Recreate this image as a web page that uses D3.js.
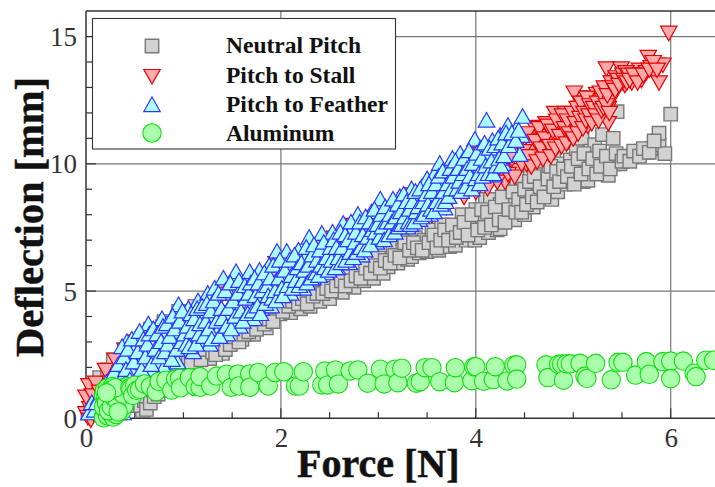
<!DOCTYPE html>
<html><head><meta charset="utf-8">
<script src="https://cdn.jsdelivr.net/npm/d3@7"></script>
<style>html,body{margin:0;padding:0;background:#fff}svg{display:block}text{font-family:"Liberation Serif",serif}</style>
</head><body><div id="c"></div>
<script>
const xTicks=[0,2,4,6], xMinor=[0.5,1,1.5,2.5,3,3.5,4.5,5,5.5];
const yTicks=[0,5,10,15], yMinor=[1,2,3,4,6,7,8,9,11,12,13,14];
const seriesNames=["Neutral Pitch","Pitch to Stall","Pitch to Feather","Aluminum"];
const neutralPitch=[[.02,.2],[.05,.9],[.08,.5],[.1,1.3],[.14,1.6],[.18,1.1],[.2,.3],[.22,1.9],[.28,.4],[.28,2.3],[.32,.9],[.35,.2],[.36,1.5],[.4,2.7],[.42,.5],[.45,1.2],[.5,3.0],[.52,.7],[.55,2.0],[.58,.3],[.56,.5],[.6,.7],[.62,.35],[.64,1.1],[.66,.6],[.66,3.5],[.7,2.5],[.7,.85],[.74,.95],[.75,1.6],[.78,1.1],[.8,3.8],[.82,1.45],[.88,1.8],[.9,2.8],[.95,4.2],[1.0,2.0],[1.02,3.3],[1.12,2.05],[1.12,4.4],[1.15,2.5],[1.2,3.0],[1.27,2.35],[1.3,4.7],[1.35,3.3],[1.4,2.55],[1.45,3.0],[1.5,5.0],[1.55,3.6],[1.6,3.1],[1.65,3.9],[1.7,5.4],[1.72,3.3],[1.8,3.9],[1.85,3.55],[1.9,5.7],[1.93,4.3],[1.99,4.1],[2.05,4.7],[2.1,4.15],[2.15,6.0],[2.2,4.3],[2.25,4.9],[2.3,4.4],[2.35,5.2],[2.4,4.6],[2.45,5.5],[2.5,4.7],[2.55,6.7],[2.6,5.3],[2.63,4.95],[2.7,5.6],[2.75,5.15],[2.8,6.0],[2.85,5.4],[2.9,5.8],[2.95,5.5],[3.0,6.3],[3.05,5.7],[3.1,5.95],[3.15,6.7],[3.2,6.1],[3.25,6.6],[3.3,6.25],[3.34,6.35],[3.38,7.1],[3.42,6.5],[3.47,7.0],[3.5,6.55],[3.55,7.4],[3.58,6.9],[3.62,6.6],[3.65,7.6],[3.7,7.2],[3.73,6.75],[3.79,6.8],[3.82,7.5],[3.86,8.0],[3.9,7.0],[3.93,7.7],[3.99,7.0],[4.0,8.2],[4.04,7.1],[4.07,7.8],[4.1,8.6],[4.13,7.3],[4.15,8.6],[4.18,7.9],[4.22,7.4],[4.25,8.4],[4.25,7.45],[4.29,9.0],[4.32,7.9],[4.36,8.5],[4.4,7.8],[4.42,9.2],[4.45,8.2],[4.48,9.45],[4.5,8.0],[4.53,8.9],[4.56,9.8],[4.59,8.3],[4.62,9.2],[4.65,8.7],[4.68,10.1],[4.72,9.0],[4.75,9.7],[4.78,8.6],[4.8,10.4],[4.84,8.9],[4.84,9.5],[4.88,10.0],[4.92,9.2],[4.97,10.15],[5.0,9.3],[5.03,10.6],[5.06,9.7],[5.09,11.0],[5.1,9.3],[5.14,10.0],[5.15,9.35],[5.18,10.5],[5.22,10.75],[5.25,9.7],[5.3,11.15],[5.32,9.9],[5.36,9.55],[5.41,11.0],[5.42,10.0],[5.45,12.05],[5.48,10.0],[5.55,10.2],[5.6,10.3],[5.65,10.4],[5.7,10.5],[5.75,10.45],[5.8,10.6],[5.88,10.75],[5.88,11.2],[5.94,10.4],[6.0,11.95],[5.09,12.6],
[1.05,2.4],[1.08,2.2],[1.18,2.3],[1.22,2.7],[1.3,2.6],[1.33,2.5],[1.38,2.9],[1.43,2.7],[1.48,2.9],[1.52,3.2],[1.57,3.0],[1.62,3.3],[1.67,3.4],[1.75,3.5],[1.78,3.9],[1.83,3.7],[1.88,3.9],[1.92,3.8],[1.96,4.4],[2.02,4.2],[2.08,4.4],[2.12,4.6],[2.18,4.5],[2.22,4.7],[2.27,4.5],[2.33,4.8],[2.37,4.9],[2.43,4.9],[2.47,5.1],[2.52,5.0],[2.57,5.2],[2.62,5.4],[2.66,5.2],[2.72,5.4],[2.77,5.6],[2.82,5.5],[2.87,5.9],[2.92,5.7],[2.97,6.0],[3.02,5.9],[3.07,6.2],[3.12,6.1],[3.17,6.4],[3.22,6.3],[3.27,6.9],[3.32,6.6],[3.36,6.9],[3.4,6.7],[3.45,6.6],[3.52,6.9],[3.57,7.2],[3.6,6.7],[3.64,7.0],[3.68,7.4],[3.72,7.0],[3.76,7.6],[3.8,7.1],[3.84,7.3],[3.88,7.7],[3.92,7.2],[3.96,8.0],[4.02,7.4],[4.06,8.2],[4.09,7.5],[4.12,8.1],[4.16,7.6],[4.2,8.3],[4.24,7.8],[4.27,8.7],[4.3,7.7],[4.34,8.2],[4.38,8.9],[4.41,8.1],[4.44,8.6],[4.47,8.1],[4.5,9.0],[4.52,8.4],[4.55,9.3],[4.58,8.7],[4.6,9.5],[4.63,8.5],[4.66,9.1],[4.7,8.7],[4.74,9.4],[4.77,9.9],[4.8,9.1],[4.83,9.7],[4.86,9.3],[4.9,9.8],[4.94,9.5],[4.98,9.9],[5.01,9.2],[5.05,10.2],[5.08,9.6],[5.11,10.4],[5.16,9.8],[5.2,10.2],[5.24,9.6],[5.27,10.5],[5.28,9.9],[5.34,10.3],[5.38,9.8],[5.44,10.4],[5.5,10.1],[5.52,10.3],[5.58,10.1],[5.62,10.5],[5.68,10.3],[5.72,10.6],[5.78,10.45],[5.83,10.9]];
const pitchToStall=[[0,.2],[.02,.05],[.04,.4],[.05,-.05],[.08,.2],[0,.85],[.03,1.3],[.07,.9],[.1,1.4],[.14,1.05],[.2,1.9],[.25,1.4],[.3,2.3],[.35,1.8],[.4,2.7],[.5,3.0],[.55,2.1],[.65,3.3],[.7,2.4],[.8,3.6],[.9,2.9],[1.0,4.0],[1.1,3.3],[1.2,4.4],[1.3,3.6],[1.4,4.9],[1.45,4.0],[1.55,5.3],[1.65,4.3],[1.75,5.5],[1.85,4.7],[1.95,6.1],[2.05,5.1],[2.15,6.3],[2.25,5.5],[2.35,6.8],[2.45,5.9],[2.55,7.1],[2.65,6.2],[2.75,7.6],[2.85,6.7],[2.95,7.9],[3.05,7.0],[3.12,8.2],[3.22,7.4],[3.28,8.6],[3.36,8.8],[3.42,7.8],[3.46,8.8],[3.55,8.0],[3.62,9.2],[3.7,8.3],[3.8,9.7],[3.88,8.7],[3.95,9.9],[4.0,8.9],[4.05,10.4],[4.12,9.05],[4.2,9.6],[4.25,10.3],[4.3,9.3],[4.35,10.8],[4.42,9.75],[4.45,10.4],[4.5,11.0],[4.52,10.0],[4.56,9.95],[4.58,10.7],[4.6,11.45],[4.64,10.3],[4.68,11.1],[4.7,10.6],[4.72,11.6],[4.75,10.4],[4.78,11.0],[4.81,12.0],[4.84,10.7],[4.87,11.5],[4.9,11.15],[4.92,12.0],[4.95,10.9],[4.98,11.6],[5.01,12.8],[5.03,11.3],[5.06,12.2],[5.09,11.6],[5.12,12.4],[5.15,11.5],[5.18,12.0],[5.2,12.6],[5.22,11.8],[5.24,12.75],[5.27,12.0],[5.3,12.5],[5.33,12.9],[5.34,13.75],[5.36,11.6],[5.36,12.2],[5.38,13.0],[5.4,12.6],[5.42,13.2],[5.45,13.0],[5.49,13.75],[5.5,13.2],[5.53,13.1],[5.56,13.4],[5.6,13.2],[5.64,13.4],[5.68,13.7],[5.7,13.3],[5.75,13.6],[5.77,14.2],[5.8,13.8],[5.84,13.55],[5.87,13.9],[5.88,13.2],[5.92,13.9],
[4.22,9.3],[4.27,10.0],[4.33,9.6],[4.37,10.2],[4.4,9.5],[4.44,10.8],[4.47,10.0],[4.49,10.5],[4.53,11.2],[4.55,10.3],[4.57,9.9],[4.61,10.9],[4.63,10.1],[4.65,11.4],[4.67,10.6],[4.69,10.2],[4.71,11.0],[4.74,11.5],[4.76,10.7],[4.77,10.3],[4.79,11.3],[4.82,10.6],[4.83,11.7],[4.86,11.1],[4.88,10.7],[4.89,11.9],[4.91,11.4],[4.93,10.8],[4.94,11.7],[4.96,11.2],[4.99,12.0],[5.0,11.0],[5.02,11.6],[5.04,12.2],[5.05,11.2],[5.07,11.8],[5.08,12.4],[5.1,11.4],[5.11,12.0],[5.13,11.7],[5.14,12.6],[5.16,11.9],[5.17,12.3],[5.19,11.6],[5.21,12.2],[5.23,11.9],[5.25,12.4],[5.26,11.7],[5.28,12.8],[5.29,12.1],[5.31,12.2],[5.32,13.0],[5.34,12.3],[5.35,12.7],[5.37,12.0],[5.39,13.2],[5.41,13.0],[5.43,12.9],[5.44,13.4],[5.46,13.3],[5.47,13.1],[5.51,13.5],[5.52,13.3],[5.54,13.6],[5.55,13.2],[5.57,13.5],[5.58,13.3],[5.62,13.5],[5.66,13.2],[5.72,13.5],[5.78,13.7],[5.82,14.0],[5.86,13.7],[5.98,15.15]];
const pitchToFeather=[[.03,.2],[.06,.6],[.09,.3],[.13,.8],[.18,.45],[.19,1.2],[.25,.8],[.27,1.5],[.32,1.1],[.35,1.8],[.38,.2],[.4,1.4],[.42,3.0],[.44,2.3],[.46,.9],[.48,1.8],[.5,2.7],[.52,3.2],[.54,1.3],[.56,2.2],[.58,2.9],[.6,1.7],[.62,3.4],[.64,3.7],[.66,2.5],[.68,1.9],[.7,3.1],[.72,2.2],[.74,3.6],[.76,2.7],[.78,3.9],[.8,2.0],[.82,3.3],[.85,2.5],[.87,3.8],[.9,2.9],[.92,4.2],[.94,2.2],[.95,4.45],[.97,3.4],[1.0,2.7],[1.02,3.9],[1.05,4.3],[1.07,3.1],[1.1,2.6],[1.12,3.6],[1.15,4.6],[1.18,3.0],[1.2,4.1],[1.22,3.4],[1.25,4.9],[1.27,2.9],[1.3,3.9],[1.32,5.1],[1.33,3.3],[1.35,4.5],[1.38,3.6],[1.41,5.5],[1.42,4.1],[1.45,3.3],[1.47,4.9],[1.5,3.8],[1.52,5.3],[1.54,5.75],[1.55,4.4],[1.58,3.6],[1.6,5.0],[1.62,4.0],[1.65,5.5],[1.68,5.75],[1.7,4.5],[1.72,3.9],[1.75,5.1],[1.78,5.8],[1.8,4.3],[1.82,5.4],[1.85,4.7],[1.88,6.0],[1.9,4.4],[1.93,5.3],[1.96,6.55],[1.97,4.9],[2.0,5.7],[2.03,6.2],[2.05,5.0],[2.06,6.55],[2.08,5.4],[2.1,4.9],[2.13,6.0],[2.16,5.2],[2.18,6.6],[2.2,5.6],[2.23,5.1],[2.25,6.3],[2.29,7.1],[2.3,5.7],[2.33,5.5],[2.35,6.6],[2.38,5.9],[2.42,7.25],[2.43,6.2],[2.46,5.7],[2.48,6.9],[2.5,6.0],[2.53,7.3],[2.55,6.5],[2.58,5.9],[2.6,7.0],[2.64,7.65],[2.65,6.3],[2.68,6.8],[2.7,6.1],[2.73,7.4],[2.75,6.6],[2.79,8.0],[2.8,7.0],[2.83,6.4],[2.85,7.6],[2.88,6.9],[2.9,7.4],[2.93,8.1],[2.95,7.0],[2.98,6.9],[3.0,7.8],[3.02,8.6],[3.05,7.2],[3.08,8.0],[3.1,7.4],[3.13,8.4],[3.16,7.5],[3.19,8.1],[3.22,8.7],[3.25,7.7],[3.28,8.3],[3.3,7.5],[3.34,9.0],[3.36,7.9],[3.4,8.5],[3.42,7.8],[3.45,9.1],[3.48,8.2],[3.5,9.4],[3.53,8.0],[3.56,8.8],[3.58,9.6],[3.61,8.8],[3.63,10.0],[3.65,9.2],[3.68,8.25],[3.7,9.7],[3.73,9.0],[3.76,10.2],[3.78,8.9],[3.8,9.5],[3.84,10.4],[3.86,9.2],[3.89,9.9],[3.92,9.3],[3.95,10.3],[3.99,9.55],[3.99,10.95],[4.02,10.0],[4.05,10.6],[4.08,9.7],[4.11,11.7],[4.12,10.3],[4.15,9.8],[4.17,10.9],[4.19,9.55],[4.22,10.4],[4.25,11.1],[4.28,10.0],[4.3,10.7],[4.33,11.5],[4.39,11.0],[4.42,11.4],[4.45,10.35],[4.47,11.1],[4.48,11.85],
[.11,.6],[.2,1.0],[.21,1.4],[.26,1.2],[.29,1.8],[.31,.7],[.33,2.1],[.36,1.5],[.37,2.8],[.39,2.4],[.41,1.9],[.43,2.7],[.45,1.5],[.47,3.1],[.49,2.2],[.51,1.1],[.53,2.6],[.55,3.4],[.57,1.9],[.59,3.1],[.61,2.4],[.63,2.9],[.65,3.3],[.67,2.1],[.69,3.5],[.71,2.7],[.73,3.3],[.75,2.4],[.77,3.0],[.79,3.6],[.81,2.6],[.83,3.7],[.84,2.9],[.86,3.2],[.88,2.3],[.89,4.0],[.91,3.5],[.93,2.7],[.96,3.8],[.98,3.0],[.99,4.2],[1.01,3.3],[1.03,2.9],[1.04,3.6],[1.06,2.8],[1.08,4.1],[1.09,3.4],[1.11,3.9],[1.13,2.9],[1.14,4.3],[1.16,3.3],[1.17,3.7],[1.19,4.4],[1.21,3.2],[1.23,3.8],[1.24,4.5],[1.26,3.5],[1.28,4.2],[1.29,3.1],[1.31,4.6],[1.34,3.8],[1.36,4.9],[1.37,3.2],[1.39,4.3],[1.4,3.9],[1.43,5.0],[1.44,3.6],[1.46,4.3],[1.48,5.3],[1.49,3.5],[1.51,4.6],[1.53,4.0],[1.56,4.9],[1.57,5.4],[1.59,4.2],[1.61,3.8],[1.63,5.2],[1.64,4.7],[1.66,4.1],[1.67,4.9],[1.69,5.3],[1.71,4.2],[1.73,5.5],[1.74,4.8],[1.76,4.4],[1.77,5.3],[1.79,4.1],[1.81,5.0],[1.83,5.7],[1.84,4.5],[1.86,5.2],[1.87,4.8],[1.89,5.5],[1.91,4.7],[1.92,6.0],[1.94,5.0],[1.95,4.6],[1.98,5.5],[1.99,6.2],[2.01,5.1],[2.02,4.8],[2.04,5.8],[2.07,5.2],[2.09,6.2],[2.11,5.6],[2.12,5.1],[2.14,6.4],[2.15,5.4],[2.17,5.9],[2.19,5.2],[2.21,6.1],[2.22,5.4],[2.24,5.8],[2.26,6.7],[2.27,5.3],[2.28,6.0],[2.31,5.5],[2.32,6.4],[2.34,6.8],[2.36,5.7],[2.37,6.2],[2.39,5.6],[2.4,6.6],[2.41,6.0],[2.44,6.9],[2.45,5.9],[2.47,6.3],[2.49,5.8],[2.51,6.7],[2.52,6.2],[2.54,7.0],[2.56,5.9],[2.57,6.7],[2.59,6.3],[2.61,7.3],[2.62,6.1],[2.63,6.7],[2.66,7.2],[2.67,6.2],[2.69,7.0],[2.71,6.5],[2.72,7.7],[2.74,6.3],[2.76,6.9],[2.77,7.3],[2.78,6.5],[2.81,7.7],[2.82,6.7],[2.84,7.2],[2.86,6.6],[2.87,7.9],[2.89,7.1],[2.91,7.7],[2.92,6.8],[2.94,7.4],[2.96,8.2],[2.97,7.3],[2.99,7.6],[3.01,7.1],[3.03,8.0],[3.04,7.5],[3.06,7.0],[3.07,8.3],[3.09,7.7],[3.11,7.2],[3.12,8.0],[3.14,7.7],[3.15,8.6],[3.17,7.3],[3.18,7.9],[3.2,8.4],[3.21,7.5],[3.23,8.1],[3.24,7.6],[3.26,8.8],[3.27,7.9],[3.29,8.5],[3.31,7.7],[3.32,8.2],[3.33,7.6],[3.35,8.5],[3.37,7.7],[3.38,8.9],[3.39,8.1],[3.41,8.3],[3.43,9.0],[3.44,7.9],[3.46,8.5],[3.47,8.0],[3.49,8.8],[3.51,8.4],[3.52,9.2],[3.54,8.2],[3.55,8.9],[3.57,8.1],[3.59,9.2],[3.6,8.5],[3.62,9.5],[3.64,8.4],[3.66,9.7],[3.67,8.9],[3.69,8.5],[3.71,9.2],[3.72,8.7],[3.74,9.8],[3.75,9.0],[3.77,9.5],[3.79,10.1],[3.81,9.0],[3.82,9.8],[3.83,9.3],[3.85,8.9],[3.87,9.6],[3.88,10.2],[3.9,9.1],[3.91,9.8],[3.93,10.5],[3.94,9.5],[3.96,9.0],[3.97,10.0],[4.0,9.4],[4.01,10.4],[4.03,9.6],[4.04,9.2],[4.06,10.2],[4.07,9.5],[4.09,10.8],[4.1,9.9],[4.13,9.6],[4.14,10.6],[4.16,10.1],[4.18,9.6],[4.2,10.7],[4.21,9.9],[4.23,11.0],[4.24,10.2],[4.26,9.9],[4.27,10.8],[4.29,10.3],[4.31,11.2],[4.34,10.7],[4.37,11.2],[4.41,10.9],[4.44,11.3]];
const aluminum=[[.18,.05],[.19,.2],[.18,.02],[.2,.35],[.22,.1],[.24,.5],[.25,.2],[.26,.7],[.28,.05],[.28,.35],[.3,.9],[.3,.6],[.31,.15],[.33,1.05],[.34,.45],[.36,.8],[.37,1.2],[.37,.3],[.4,.65],[.42,1.0],[.42,1.25],[.39,.5],[.18,.9],[.19,1.1],[.2,.75],[.22,1.2],[.24,.95],[.27,1.25],[.19,.55],[.18,.45],[.21,.6],[.23,.3],[.26,.45],[.29,.8],[.32,.7],[.35,1.05],[.38,.95],[.25,1.1],[.3,1.2],[.33,.25],[.21,1.0],[.45,1.2],[.46,1.15],[.48,.9],[.5,1.3],[.52,1.1],[.55,1.14],[.6,1.35],[.66,1.25],[.72,1.05],[.75,1.45],[.82,1.5],[.88,1.11],[.92,1.55],[.96,1.57],[.97,1.2],[1.06,1.6],[1.12,1.25],[1.17,1.22],[1.17,1.64],[1.28,1.27],[1.34,1.66],[1.44,1.73],[1.49,1.22],[1.56,1.74],[1.57,1.27],[1.68,1.74],[1.68,1.22],[1.77,1.8],[1.87,1.27],[1.94,1.8],[2.03,1.83],[2.15,1.27],[2.19,1.27],[2.23,1.83],[2.42,1.31],[2.45,1.86],[2.48,1.31],[2.56,1.9],[2.59,1.35],[2.71,1.86],[2.79,1.9],[2.89,1.38],[3.02,1.93],[3.06,1.35],[3.17,1.93],[3.2,1.4],[3.24,1.97],[3.39,1.38],[3.43,1.44],[3.48,1.99],[3.55,1.99],[3.63,1.44],[3.78,1.4],[3.79,1.99],[3.96,1.48],[3.98,2.03],[4.0,2.03],[4.08,1.46],[4.18,1.52],[4.2,2.03],[4.32,1.47],[4.39,2.08],[4.42,2.1],[4.42,1.54],[4.72,2.1],[4.74,1.6],[4.85,2.12],[4.88,2.13],[4.9,1.5],[4.93,2.14],[4.97,2.14],[5.07,2.16],[5.12,1.66],[5.14,1.57],[5.23,2.16],[5.39,1.51],[5.46,2.2],[5.51,2.2],[5.64,1.7],[5.75,2.23],[5.78,1.73],[5.92,2.23],[6.0,2.25],[6.0,1.56],[6.13,2.25],[6.24,1.77],[6.26,1.64],[6.36,2.28],[6.44,2.28]];

const W=715,H=487,X0=86,Y0=418.3,YT=11;
const x=d3.scaleLinear().domain([0,6.455]).range([X0,X0+6.455*97.45]);
const y=d3.scaleLinear().domain([0,16]).range([Y0,Y0-16*25.45]);
const svg=d3.select("#c").append("svg").attr("width",W).attr("height",H);
const gridC="#777",axC="#333";

const grid=svg.append("g").attr("stroke",gridC).attr("stroke-width",1.2);
grid.selectAll("line.gx").data(xTicks.slice(1)).join("line").attr("x1",d=>x(d)).attr("x2",d=>x(d)).attr("y1",y(0)).attr("y2",y(16));
grid.selectAll("line.gy").data(yTicks.slice(1)).join("line").attr("x1",x(0)).attr("x2",W).attr("y1",d=>y(d)).attr("y2",d=>y(d));

const axX=svg.append("g").attr("transform",`translate(0,${Y0})`).call(d3.axisBottom(x).tickValues(xTicks).tickSize(0).tickPadding(6).tickFormat(d3.format("d")));
const axY=svg.append("g").attr("transform",`translate(${X0},0)`).call(d3.axisLeft(y).tickValues(yTicks).tickSize(0).tickPadding(9).tickFormat(d3.format("d")));
[axX,axY].forEach(a=>{a.select(".domain").remove();a.selectAll("text").attr("font-size",27).attr("fill","#333").style("font-family",'"Liberation Serif",serif');});
axX.selectAll("text").attr("dy","0").attr("y",29);
axY.selectAll("text").attr("dy","0.34em");

const tk=svg.append("g").attr("stroke",axC).attr("stroke-width",1.2);
tk.selectAll("line.a").data(xTicks).join("line").attr("x1",d=>x(d)).attr("x2",d=>x(d)).attr("y1",Y0).attr("y2",Y0-10);
tk.selectAll("line.b").data(xMinor).join("line").attr("x1",d=>x(d)).attr("x2",d=>x(d)).attr("y1",Y0).attr("y2",Y0-6);
tk.selectAll("line.c").data(yTicks).join("line").attr("y1",d=>y(d)).attr("y2",d=>y(d)).attr("x1",X0).attr("x2",X0+10);
tk.selectAll("line.d").data(yMinor).join("line").attr("y1",d=>y(d)).attr("y2",d=>y(d)).attr("x1",X0).attr("x2",X0+6);

const frame=svg.append("g").attr("stroke",axC).attr("stroke-width",1.5).attr("fill","none");
frame.append("line").attr("x1",X0).attr("x2",X0).attr("y1",YT).attr("y2",Y0);
frame.append("line").attr("x1",X0).attr("x2",W).attr("y1",YT).attr("y2",YT);
frame.append("line").attr("x1",X0).attr("x2",W).attr("y1",Y0).attr("y2",Y0);

const triW=16.5,triH=14.5;
const shapes={
 square:()=>"M-6.7,-6.7H6.7V6.7H-6.7Z",
 down:()=>`M${-triW/2},${-triH*0.45}H${triW/2}L0,${triH*0.55}Z`,
 up:()=>`M${-triW/2},${triH*0.45}H${triW/2}L0,${-triH*0.55}Z`,
 circle:()=>d3.arc()({innerRadius:0,outerRadius:9.2,startAngle:0,endAngle:2*Math.PI})
};
const styles=[
 {d:shapes.square(),fill:"#d2d2d2",stroke:"#777777",sw:1.4},
 {d:shapes.down(),fill:"#ffaaaa",stroke:"#e60000",sw:1.2},
 {d:shapes.up(),fill:"#aaffff",stroke:"#3333ff",sw:1.2},
 {d:shapes.circle(),fill:"#aaffaa",stroke:"#11dd11",sw:1.1}
];
[neutralPitch,pitchToStall,pitchToFeather,aluminum].forEach((data,i)=>{
 const s=styles[i];
 svg.append("g").selectAll("path").data(data).join("path").attr("d",s.d).attr("fill",s.fill).attr("stroke",s.stroke).attr("stroke-width",s.sw)
  .attr("transform",d=>`translate(${x(d[0])},${y(d[1])})`);
});

const lg=svg.append("g");
lg.append("rect").attr("x",92.5).attr("y",18.5).attr("width",303).attr("height",130.5).attr("fill","#fff").attr("stroke","#333").attr("stroke-width",1.1);
const ly=[46,76,105,133], lb=[53,83,112,141];
seriesNames.forEach((n,i)=>{
 const s=styles[i];
 lg.append("path").attr("d",s.d).attr("fill",s.fill).attr("stroke",s.stroke).attr("stroke-width",s.sw).attr("transform",`translate(152,${ly[i]})`);
 lg.append("text").attr("x",226).attr("y",lb[i]).attr("font-size",23.5).attr("font-weight","bold").attr("fill","#111").text(n);
});
svg.append("text").attr("x",297).attr("y",477).attr("font-size",40).attr("font-weight","bold").attr("fill","#111").attr("stroke","#111").attr("stroke-width",.5).text("Force [N]");
svg.append("text").attr("transform","translate(43,217) rotate(-90)").attr("text-anchor","middle").attr("font-size",40.5).attr("font-weight","bold").attr("fill","#111").attr("stroke","#111").attr("stroke-width",.5).text("Deflection [mm]");
</script></body></html>
